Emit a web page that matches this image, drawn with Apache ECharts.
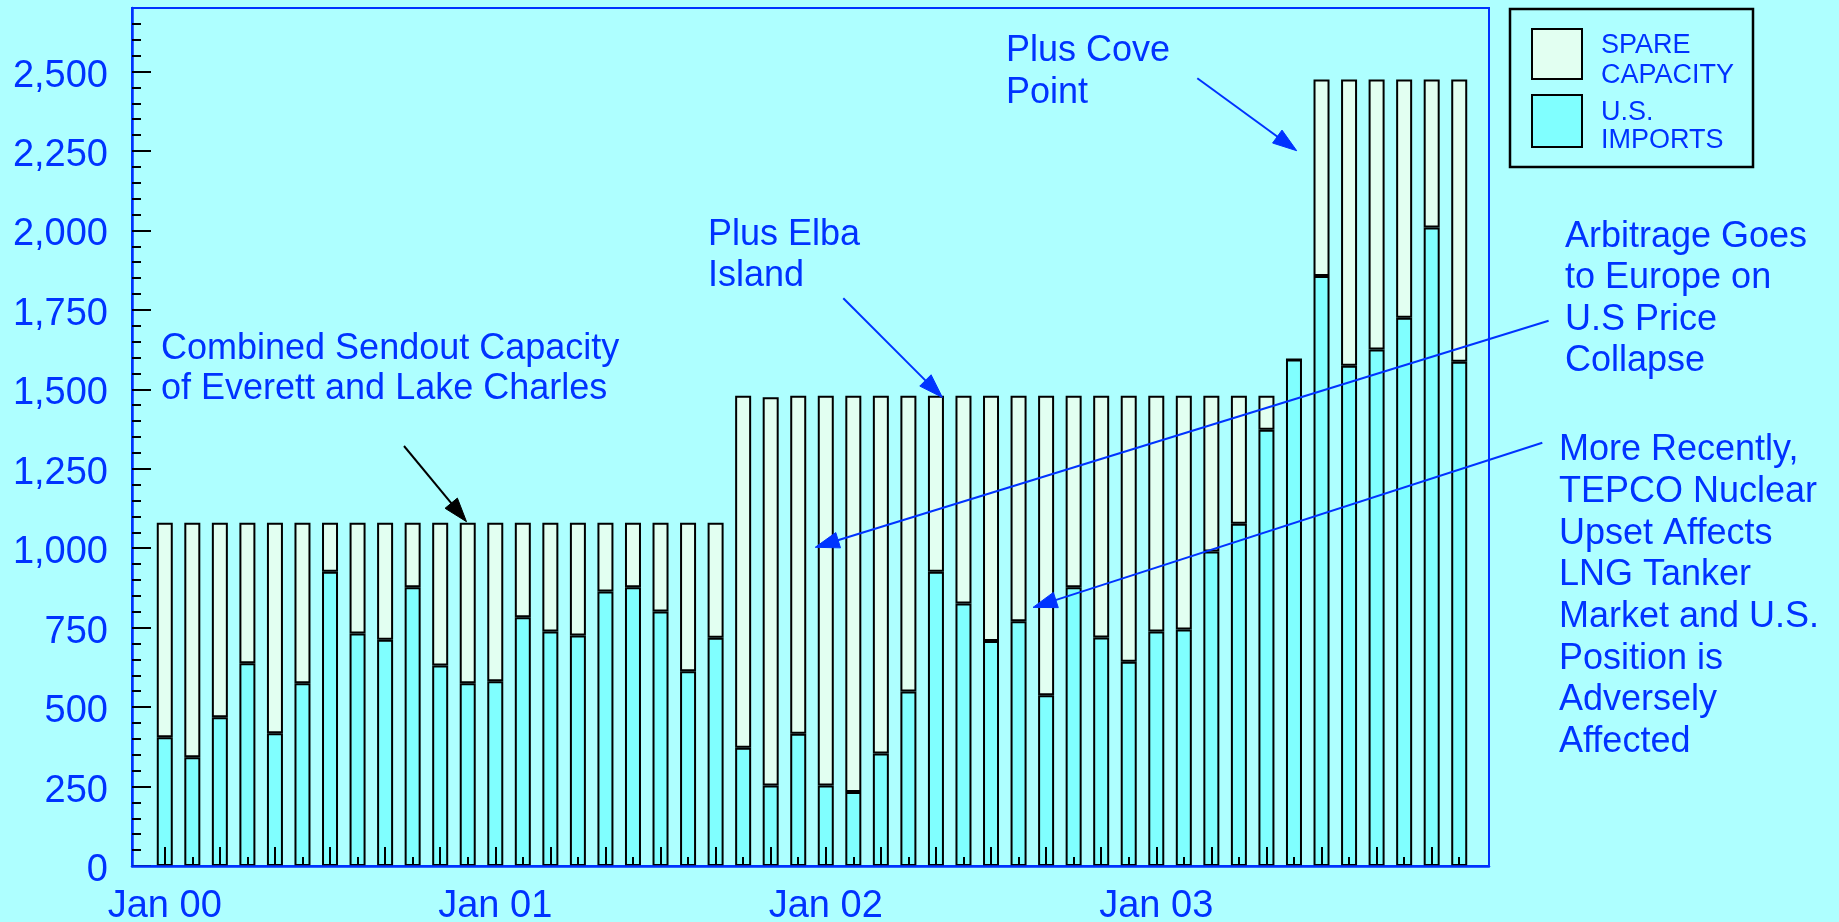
<!DOCTYPE html>
<html>
<head>
<meta charset="utf-8">
<title>LNG Imports vs Sendout Capacity</title>
<script src="https://cdn.jsdelivr.net/npm/echarts@6/dist/echarts.min.js"></script>
<style>
  html, body { margin: 0; padding: 0; background: #AEFFFF; }
  #chart { width: 1839px; height: 922px; }
</style>
</head>
<body>
<div id="chart"></div>
<script>
// Monthly U.S. LNG imports and spare terminal sendout capacity, Jan 2000 - Dec 2003 (MMcf/d)
const months = [
  'Jan 00','Feb 00','Mar 00','Apr 00','May 00','Jun 00','Jul 00','Aug 00','Sep 00','Oct 00','Nov 00','Dec 00',
  'Jan 01','Feb 01','Mar 01','Apr 01','May 01','Jun 01','Jul 01','Aug 01','Sep 01','Oct 01','Nov 01','Dec 01',
  'Jan 02','Feb 02','Mar 02','Apr 02','May 02','Jun 02','Jul 02','Aug 02','Sep 02','Oct 02','Nov 02','Dec 02',
  'Jan 03','Feb 03','Mar 03','Apr 03','May 03','Jun 03','Jul 03','Aug 03','Sep 03','Oct 03','Nov 03','Dec 03'
];

const usImports = [
  405, 342, 468, 638, 418, 575, 926, 732, 712, 877, 631, 575,
  581, 783, 738, 725, 864, 877, 801, 613, 718, 372, 253, 416,
  253, 233, 354, 549, 926, 826, 708, 770, 537, 877, 719, 643,
  738, 744, 990, 1077, 1373, 1594, 1857, 1574, 1625, 1725, 2009, 1587
];

const spareCapacity = [
  675, 738, 612, 442, 662, 505, 154, 348, 368, 203, 449, 505,
  499, 297, 342, 355, 216, 203, 279, 467, 362, 1108, 1222, 1064,
  1227, 1247, 1126, 931, 554, 654, 772, 710, 943, 603, 761, 837,
  742, 736, 490, 403, 107, 0, 618, 901, 850, 750, 466, 888
];

const yTickValues = [0, 250, 500, 750, 1000, 1250, 1500, 1750, 2000, 2250, 2500];

// ---- styling ----
const BG = '#AEFFFF';
const BLUE = '#0033FF';
const IMPORT_FILL = '#80FFFF';
const SPARE_FILL = '#E2FFF1';
const FONT = '"Liberation Sans", Arial, Helvetica, sans-serif';
const Y_MAX = 2700;

const minorY = [];
for (let v = 50; v < Y_MAX; v += 50) if (v % 250 !== 0) minorY.push(v);

// plot frame, and the inner band the monthly slots occupy
const FRAME = { left: 132, right: 350, top: 8, bottom: 56 };
const BARS = { left: 151, right: 366, top: 8, bottom: 56 };

const chart = echarts.init(document.getElementById('chart'), null, { renderer: 'canvas' });

// arrowed annotation line
function arrow(x1, y1, x2, y2, color) {
  const dx = x2 - x1, dy = y2 - y1, len = Math.hypot(dx, dy);
  const ux = dx / len, uy = dy / len, L = 24, W = 8;
  const bx = x2 - ux * L, by = y2 - uy * L;
  return [
    { type: 'line', z: 100, shape: { x1, y1, x2: bx + ux * 2, y2: by + uy * 2 },
      style: { stroke: color, lineWidth: 2 } },
    { type: 'polygon', z: 100,
      shape: { points: [[x2, y2], [bx - uy * W, by + ux * W], [bx + uy * W, by - ux * W]] },
      style: { fill: color, stroke: color, lineWidth: 1 } }
  ];
}

function note(x, top, lines, lh) {
  return { type: 'text', z: 100, x, y: top + 3,
    style: { text: lines.join('\n'), fill: BLUE, font: '36px ' + FONT,
      lineHeight: lh, align: 'left', verticalAlign: 'top' } };
}

function legendText(x, centerY, text) {
  return { type: 'text', z: 100, x, y: centerY,
    style: { text, fill: BLUE, font: '27px ' + FONT, align: 'left', verticalAlign: 'middle' } };
}

const graphics = [
  // annotations
  note(161, 325.8, ['Combined Sendout Capacity', 'of Everett and Lake Charles'], 40),
  note(708, 211, ['Plus Elba', 'Island'], 41.7),
  note(1006, 27.2, ['Plus Cove', 'Point'], 42),
  note(1565, 213.6, ['Arbitrage Goes', 'to Europe on', 'U.S Price', 'Collapse'], 41.2),
  note(1559, 426.7, ['More Recently,', 'TEPCO Nuclear', 'Upset Affects', 'LNG Tanker',
    'Market and U.S.', 'Position is', 'Adversely', 'Affected'], 41.67),
  ...arrow(404, 446, 466.5, 521.7, '#000000'),
  ...arrow(843.3, 298.3, 942.4, 397.4, BLUE),
  ...arrow(1197.3, 78.3, 1296.7, 150.7, BLUE),
  ...arrow(1548.6, 320.7, 815.2, 547.3, BLUE),
  ...arrow(1542.3, 442.7, 1033, 607.4, BLUE),
  // legend
  { type: 'rect', z: 100, shape: { x: 1510, y: 9, width: 243, height: 158 },
    style: { fill: 'none', stroke: '#000', lineWidth: 2.5 } },
  { type: 'rect', z: 100, shape: { x: 1532, y: 29, width: 50, height: 50 },
    style: { fill: SPARE_FILL, stroke: '#000', lineWidth: 2 } },
  { type: 'rect', z: 100, shape: { x: 1532, y: 95, width: 50, height: 52 },
    style: { fill: IMPORT_FILL, stroke: '#000', lineWidth: 2 } },
  legendText(1601, 53.3 - 7.6, 'SPARE'),
  legendText(1601, 83.3 - 7.6, 'CAPACITY'),
  legendText(1601, 120 - 7.6, 'U.S.'),
  legendText(1601, 148.5 - 7.6, 'IMPORTS')
];

chart.setOption({
  animation: false,
  backgroundColor: BG,
  textStyle: { fontFamily: FONT },
  grid: [
    Object.assign({ show: false, containLabel: false, outerBoundsMode: 'none' }, BARS),
    Object.assign({ show: true, borderColor: BLUE, borderWidth: 2, outerBoundsMode: 'none',
      backgroundColor: 'transparent', containLabel: false }, FRAME)
  ],
  xAxis: [
    {
      type: 'category', gridIndex: 0, data: months, boundaryGap: true, position: 'bottom', z: 10,
      axisLine: { show: false, onZero: false },
      axisTick: { show: true, inside: true, length: 9, alignWithLabel: true, interval: 0,
        lineStyle: { color: '#000', width: 2 } },
      axisLabel: { show: true, interval: i => i % 12 === 0, color: BLUE, fontSize: 38,
        margin: 22, fontFamily: FONT },
      splitLine: { show: false }
    },
    {
      type: 'category', gridIndex: 0, data: months, boundaryGap: true, position: 'bottom', z: 10,
      axisLine: { show: false, onZero: false },
      axisTick: { show: true, inside: true, length: 19, alignWithLabel: true,
        interval: i => i % 2 === 0, lineStyle: { color: '#000', width: 2 } },
      axisLabel: { show: false },
      splitLine: { show: false }
    },
    {
      // bottom edge of the plot frame, kept above the bar outlines
      type: 'value', gridIndex: 1, min: 0, max: 1, position: 'bottom', z: 11,
      axisLine: { show: true, onZero: false, lineStyle: { color: BLUE, width: 2.5 } },
      axisTick: { show: false }, axisLabel: { show: false }, splitLine: { show: false }
    }
  ],
  yAxis: [
    {
      type: 'value', gridIndex: 1, min: 0, max: Y_MAX, position: 'left',
      splitLine: { show: false },
      axisLine: { show: true, onZero: false, lineStyle: { color: BLUE, width: 2.5 } },
      axisTick: { show: true, inside: true, length: 19, customValues: yTickValues,
        lineStyle: { color: '#000', width: 2 } },
      axisLabel: { show: true, customValues: yTickValues, color: BLUE, fontSize: 38, margin: 24,
        verticalAlign: 'top', lineHeight: 9, fontFamily: FONT,
        formatter: v => v.toLocaleString('en-US') }
    },
    {
      type: 'value', gridIndex: 1, min: 0, max: Y_MAX, position: 'left',
      splitLine: { show: false }, axisLine: { show: false, onZero: false }, axisLabel: { show: false },
      axisTick: { show: true, inside: true, length: 9, customValues: minorY,
        lineStyle: { color: '#000', width: 2 } }
    },
    {
      type: 'value', gridIndex: 0, min: 0, max: Y_MAX, show: false
    }
  ],
  series: [
    {
      name: 'U.S. IMPORTS', type: 'bar', stack: 'capacity', xAxisIndex: 0, yAxisIndex: 2,
      barWidth: 16,
      itemStyle: { color: IMPORT_FILL, borderColor: '#000', borderWidth: 2 },
      data: usImports
    },
    {
      name: 'SPARE CAPACITY', type: 'bar', stack: 'capacity', xAxisIndex: 0, yAxisIndex: 2,
      barWidth: 16,
      itemStyle: { color: SPARE_FILL, borderColor: '#000', borderWidth: 2 },
      data: spareCapacity
    }
  ],
  graphic: graphics
});
</script>
</body>
</html>
